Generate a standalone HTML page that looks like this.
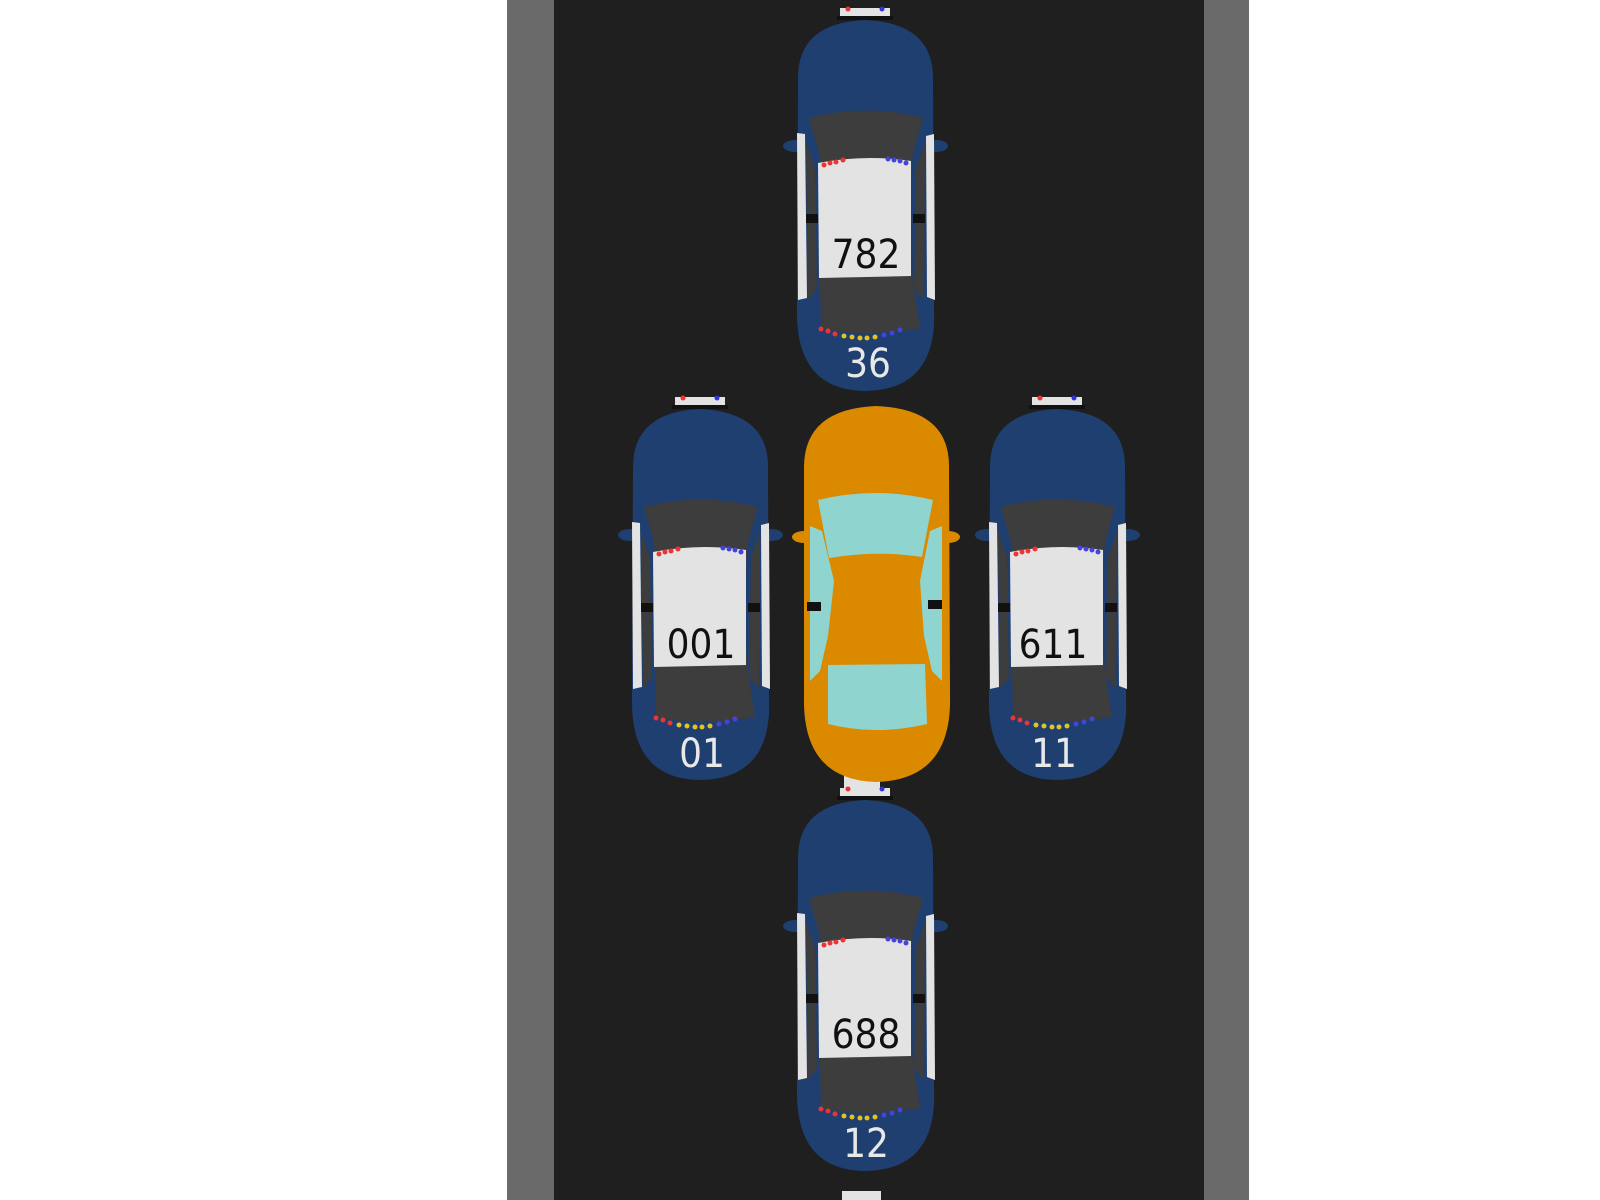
<!DOCTYPE html>
<html><head><style>
html,body{margin:0;padding:0;background:#fff;width:1600px;height:1200px;overflow:hidden}
svg{display:block}
text{font-family:"DejaVu Sans Condensed","DejaVu Sans","Liberation Sans",sans-serif}
</style></head><body>
<svg width="1600" height="1200" viewBox="0 0 1600 1200">
<defs>
<g id="police">
  <rect x="47" y="-10" width="50" height="12" fill="#e3e3e3"/>
  <rect x="44" y="-2" width="56" height="4" fill="#111"/>
  <circle cx="55" cy="-9" r="2.5" fill="#e33"/>
  <circle cx="89" cy="-9" r="2.5" fill="#33d"/>
  <ellipse cx="2" cy="128" rx="12" ry="6" fill="#1e3f6f"/>
  <ellipse cx="143" cy="128" rx="12" ry="6" fill="#1e3f6f"/>
  <path d="M5,60 Q5,5 72,2 Q140,5 140,60 L141,290 Q145,372 72,373 Q2,372 4,290 Z" fill="#1e3f6f"/>
  <path d="M4,115 L12,116 L14,280 L5,282 Z" fill="#e3e3e3"/>
  <path d="M133,118 L141,116 L142,282 L134,279 Z" fill="#e3e3e3"/>
  <path d="M13,125 L22,150 L24,270 L15,282 Z" fill="#3d3d3d"/>
  <path d="M132,125 L123,150 L121,270 L131,282 Z" fill="#3d3d3d"/>
  <rect x="13" y="196" width="12" height="9" fill="#111"/>
  <rect x="120" y="196" width="12" height="9" fill="#111"/>
  <path d="M16,100 Q72,85 130,100 L120,135 Q114,200 120,265 L127,310 Q72,320 28,310 L27,265 Q32,200 26,135 Z" fill="#3d3d3d"/>
  <path d="M25,145 Q72,136 118,143 L118,258 L26,260 Z" fill="#e3e3e3"/>
  <g fill="#e33"><circle cx="31" cy="147" r="2.5"/><circle cx="37" cy="145" r="2.5"/><circle cx="43" cy="144" r="2.5"/><circle cx="50" cy="142" r="2.5"/></g>
  <g fill="#44d"><circle cx="95" cy="141" r="2.5"/><circle cx="101" cy="142" r="2.5"/><circle cx="107" cy="143" r="2.5"/><circle cx="113" cy="145" r="2.5"/></g>
  <g fill="#e33"><circle cx="28" cy="311" r="2.5"/><circle cx="35" cy="313" r="2.5"/><circle cx="42" cy="316" r="2.5"/></g>
  <g fill="#e6c21a"><circle cx="51" cy="318" r="2.5"/><circle cx="59" cy="319" r="2.5"/><circle cx="67" cy="320" r="2.5"/><circle cx="74" cy="320" r="2.5"/><circle cx="82" cy="319" r="2.5"/></g>
  <g fill="#44d"><circle cx="91" cy="317" r="2.5"/><circle cx="99" cy="315" r="2.5"/><circle cx="107" cy="312" r="2.5"/></g>
</g>
</defs>
<rect x="507" y="0" width="742" height="1200" fill="#6a6a6a"/>
<rect x="554" y="0" width="650" height="1200" fill="#1f1f1f"/>
<rect x="844" y="775" width="36" height="25" fill="#e3e3e3"/>
<rect x="842" y="1191" width="39" height="9" fill="#e3e3e3"/>

<g transform="translate(793,18)"><use href="#police"/></g>
<g transform="translate(793,798)"><use href="#police"/></g>
<g transform="translate(628,407)"><use href="#police"/></g>
<g transform="translate(985,407)"><use href="#police"/></g>

<g font-size="40" text-anchor="middle">
  <text x="866" y="268" fill="#111">782</text>
  <text x="868" y="377" fill="#e8e8e8">36</text>
  <text x="866" y="1048" fill="#111">688</text>
  <text x="866" y="1157" fill="#e8e8e8">12</text>
  <text x="701" y="658" fill="#111">001</text>
  <text x="702" y="767" fill="#e8e8e8">01</text>
  <text x="1053" y="658" fill="#111">611</text>
  <text x="1054" y="767" fill="#e8e8e8">11</text>
</g>

<g transform="translate(802,406)">
  <ellipse cx="2" cy="131" rx="12" ry="6" fill="#db8a00"/>
  <ellipse cx="146" cy="131" rx="12" ry="6" fill="#db8a00"/>
  <path d="M2,60 Q3,3 74,0 Q147,3 147,60 L148,290 Q150,374 74,376 Q0,374 2,290 Z" fill="#db8a00"/>
  <path d="M16,94 Q74,80 131,94 L120,151 Q74,144 27,152 Z" fill="#8fd4cf"/>
  <path d="M26,259 L123,258 L125,318 Q74,330 26,318 Z" fill="#8fd4cf"/>
  <path d="M8,120 L20,125 L32,175 L26,230 L18,265 L8,275 Z" fill="#8fd4cf"/>
  <path d="M140,120 L128,125 L118,175 L122,230 L130,265 L140,275 Z" fill="#8fd4cf"/>
  <rect x="5" y="196" width="14" height="9" fill="#111"/>
  <rect x="126" y="194" width="14" height="9" fill="#111"/>
</g>
</svg>
</body></html>
